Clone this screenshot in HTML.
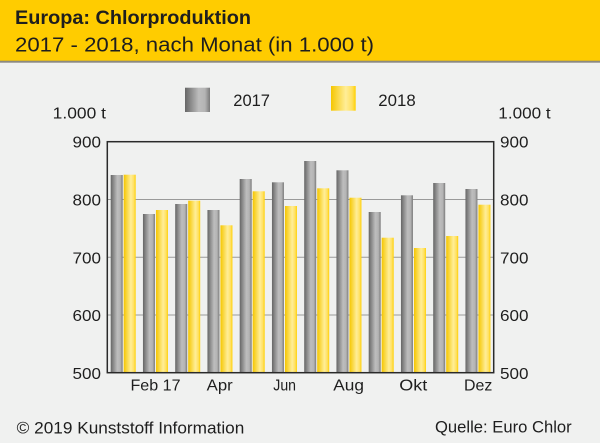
<!DOCTYPE html>
<html><head><meta charset="utf-8"><style>
html,body{margin:0;padding:0;background:#f0f1f0;}
svg{display:block;}
text{font-family:"Liberation Sans",sans-serif;fill:#1e1e1e;}
</style></head><body>
<svg width="600" height="443" viewBox="0 0 600 443" xmlns="http://www.w3.org/2000/svg">
<defs>
<linearGradient id="g" x1="0" y1="0" x2="1" y2="0">
<stop offset="0" stop-color="#666"/><stop offset="0.55" stop-color="#bdbdbd"/><stop offset="0.8" stop-color="#b4b4b4"/><stop offset="1" stop-color="#7a7a7a"/>
</linearGradient>
<linearGradient id="y" x1="0" y1="0" x2="1" y2="0">
<stop offset="0" stop-color="#f5c600"/><stop offset="0.6" stop-color="#ffee98"/><stop offset="0.85" stop-color="#ffe060"/><stop offset="1" stop-color="#ffd000"/>
</linearGradient>
</defs>
<rect x="0" y="0" width="600" height="443" fill="#f0f1f0"/>
<rect x="0" y="0" width="600" height="61" fill="#ffcc00"/>
<rect x="0" y="60.7" width="600" height="2" fill="#8c8a80"/>
<text x="15" y="24" font-size="19" font-weight="bold" textLength="236" lengthAdjust="spacingAndGlyphs">Europa: Chlorproduktion</text>
<text x="15" y="51.5" font-size="20" textLength="359" lengthAdjust="spacingAndGlyphs">2017 - 2018, nach Monat (in 1.000 t)</text>

<!-- legend -->
<rect x="185" y="87.7" width="25" height="24.3" fill="url(#g)"/>
<text x="233.3" y="106" font-size="16.5" textLength="36.7" lengthAdjust="spacingAndGlyphs">2017</text>
<rect x="331" y="86" width="24.7" height="24.7" fill="url(#y)"/>
<text x="378.3" y="106" font-size="16.5" textLength="37.4" lengthAdjust="spacingAndGlyphs">2018</text>

<text x="52.7" y="118.7" font-size="16" textLength="53.3" lengthAdjust="spacingAndGlyphs">1.000 t</text>
<text x="498.3" y="118.7" font-size="16" textLength="52.4" lengthAdjust="spacingAndGlyphs">1.000 t</text>

<!-- gridlines -->
<g stroke="#9a9a9a" stroke-width="1">
<line x1="107.3" y1="199.45" x2="493.7" y2="199.45"/>
<line x1="107.3" y1="257.2" x2="493.7" y2="257.2"/>
<line x1="107.3" y1="314.95" x2="493.7" y2="314.95"/>
</g>

<!-- bars -->
<g>
<rect x="110.7" y="175" width="12" height="197.7" fill="url(#g)"/>
<rect x="123.7" y="174.7" width="12" height="198" fill="url(#y)"/>
<rect x="142.95" y="214" width="12" height="158.7" fill="url(#g)"/>
<rect x="155.95" y="210" width="12" height="162.7" fill="url(#y)"/>
<rect x="175.2" y="204" width="12" height="168.7" fill="url(#g)"/>
<rect x="188.2" y="200.7" width="12" height="172" fill="url(#y)"/>
<rect x="207.45" y="210" width="12" height="162.7" fill="url(#g)"/>
<rect x="220.45" y="225.3" width="12" height="147.4" fill="url(#y)"/>
<rect x="239.7" y="179" width="12" height="193.7" fill="url(#g)"/>
<rect x="252.7" y="191.3" width="12" height="181.4" fill="url(#y)"/>
<rect x="271.95" y="182.3" width="12" height="190.4" fill="url(#g)"/>
<rect x="284.95" y="206" width="12" height="166.7" fill="url(#y)"/>
<rect x="304.2" y="161" width="12" height="211.7" fill="url(#g)"/>
<rect x="317.2" y="188.3" width="12" height="184.4" fill="url(#y)"/>
<rect x="336.45" y="170.3" width="12" height="202.4" fill="url(#g)"/>
<rect x="349.45" y="197.7" width="12" height="175" fill="url(#y)"/>
<rect x="368.7" y="212" width="12" height="160.7" fill="url(#g)"/>
<rect x="381.7" y="237.7" width="12" height="135" fill="url(#y)"/>
<rect x="400.95" y="195.3" width="12" height="177.4" fill="url(#g)"/>
<rect x="413.95" y="248" width="12" height="124.7" fill="url(#y)"/>
<rect x="433.2" y="183" width="12" height="189.7" fill="url(#g)"/>
<rect x="446.2" y="236" width="12" height="136.7" fill="url(#y)"/>
<rect x="465.45" y="189" width="12" height="183.7" fill="url(#g)"/>
<rect x="478.45" y="204.7" width="12" height="168" fill="url(#y)"/>
</g>

<!-- frame -->
<rect x="107.3" y="141.7" width="386.4" height="231" fill="none" stroke="#2a2a2a" stroke-width="1.5"/>

<!-- y labels -->
<g font-size="16">
<text x="101" y="147.7" text-anchor="end" textLength="28.5" lengthAdjust="spacingAndGlyphs">900</text>
<text x="101" y="205.5" text-anchor="end" textLength="28.5" lengthAdjust="spacingAndGlyphs">800</text>
<text x="101" y="263.3" text-anchor="end" textLength="28.5" lengthAdjust="spacingAndGlyphs">700</text>
<text x="101" y="321" text-anchor="end" textLength="28.5" lengthAdjust="spacingAndGlyphs">600</text>
<text x="101" y="378.8" text-anchor="end" textLength="28.5" lengthAdjust="spacingAndGlyphs">500</text>
<text x="500" y="147.7" textLength="28.5" lengthAdjust="spacingAndGlyphs">900</text>
<text x="500" y="205.5" textLength="28.5" lengthAdjust="spacingAndGlyphs">800</text>
<text x="500" y="263.3" textLength="28.5" lengthAdjust="spacingAndGlyphs">700</text>
<text x="500" y="321" textLength="28.5" lengthAdjust="spacingAndGlyphs">600</text>
<text x="500" y="378.8" textLength="28.5" lengthAdjust="spacingAndGlyphs">500</text>
</g>

<!-- x labels -->
<g font-size="16">
<text x="130.5" y="390.5" textLength="50" lengthAdjust="spacingAndGlyphs">Feb 17</text>
<text x="206.7" y="390.5" textLength="26" lengthAdjust="spacingAndGlyphs">Apr</text>
<text x="273.3" y="390.5" textLength="22.7" lengthAdjust="spacingAndGlyphs">Jun</text>
<text x="333.3" y="390.5" textLength="30.7" lengthAdjust="spacingAndGlyphs">Aug</text>
<text x="399.3" y="390.5" textLength="28" lengthAdjust="spacingAndGlyphs">Okt</text>
<text x="464" y="390.5" textLength="28.3" lengthAdjust="spacingAndGlyphs">Dez</text>
</g>

<!-- footer -->
<text x="16.7" y="433.3" font-size="17" textLength="227.6" lengthAdjust="spacingAndGlyphs">© 2019 Kunststoff Information</text>
<text x="435" y="432.7" font-size="17" textLength="136.7" lengthAdjust="spacingAndGlyphs">Quelle: Euro Chlor</text>
</svg>
</body></html>
